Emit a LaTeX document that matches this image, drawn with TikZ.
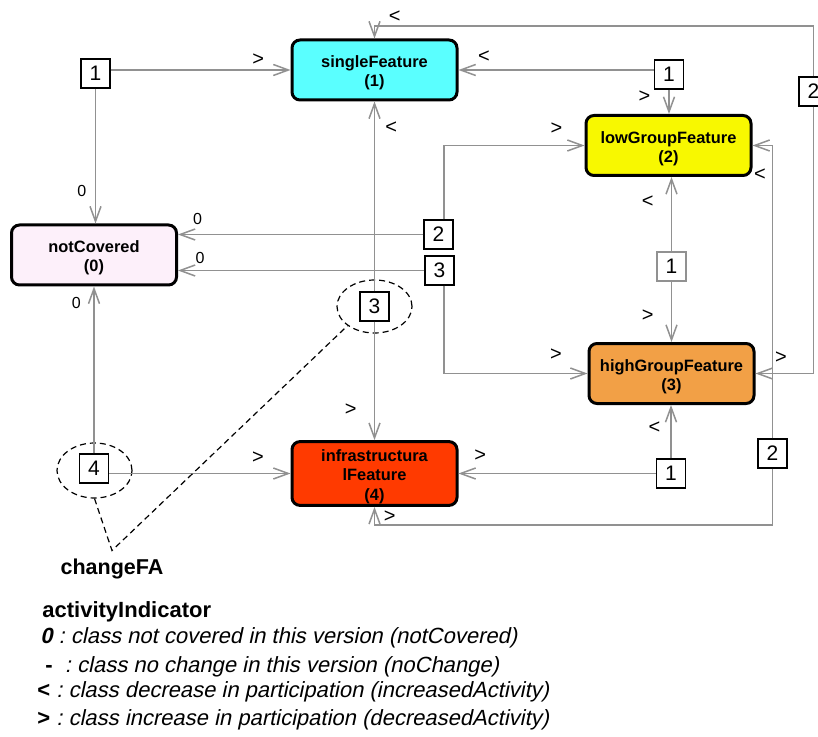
\documentclass[tikz,border=0pt]{standalone}
\usepackage{fontspec}
\setmainfont{Liberation Sans}
\newfontfamily\slantfont{Liberation Sans}[FakeSlant=0.21]
\usepackage{tikz}
\usetikzlibrary{arrows.meta,shapes.geometric}
\definecolor{featcyan}{RGB}{90,255,255}
\definecolor{featyellow}{RGB}{248,248,0}
\definecolor{featpink}{RGB}{253,240,250}
\definecolor{featorange}{RGB}{242,160,70}
\definecolor{featred}{RGB}{255,58,0}
\definecolor{linegray}{RGB}{145,145,145}
\newcommand\featstrut{\rule{0pt}{9pt}}

\begin{document}
\begin{tikzpicture}[
  x=0.5pt, y=-0.5pt,
  feat/.style={draw, line width=1.5pt, rounded corners=4pt, align=center, minimum width=82.5pt, minimum height=30pt, inner sep=1pt, font=\bfseries\fontsize{8.2}{9.6}\selectfont},
  num/.style={draw, line width=0.7pt, fill=white, minimum size=14.5pt, inner sep=0pt, font=\fontsize{10.5}{12}\selectfont},
  oval/.style={draw, ellipse, dash pattern=on 3pt off 2pt, line width=0.6pt, inner sep=0pt},
  arr/.style={draw=linegray, line width=0.75pt, -{Straight Barb[length=7.5pt,width=5.5pt]}},
  lbl/.style={inner sep=1pt, font=\fontsize{10}{12}\selectfont},
  zlbl/.style={inner sep=1pt, font=\fontsize{8}{10}\selectfont},
  note/.style={anchor=west, inner sep=0pt, font=\fontsize{11}{13}\selectfont\frenchspacing}
]
\path[use as bounding box, fill=white] (0,0) rectangle (818,737);

\node[feat, fill=featpink] (nc) at (94,255) {\featstrut notCovered\\(0)};
\node[feat, fill=featcyan] (sf) at (374.5,70) {\featstrut singleFeature\\(1)};
\node[feat, fill=featyellow] (lg) at (668.5,145.5) {\featstrut lowGroupFeature\\(2)};
\node[feat, fill=featorange] (hg) at (671.5,373.5) {\featstrut highGroupFeature\\(3)};
\node[feat, fill=featred] (inf) at (374.5,473.5) {\featstrut infrastructura\\lFeature\\(4)};

\node[oval, minimum width=37.5pt, minimum height=26.5pt] (e3) at (374.5,306.5) {};
\node[oval, minimum width=37.5pt, minimum height=27.5pt] (e4) at (94.5,470.5) {};

\node[num] (n1a) at (95.5,73.5) {1};
\node[num] (n1b) at (669,74.5) {1};
\node[num] (n2a) at (813.5,91.5) {2};
\node[num] (n2b) at (438.5,234.5) {2};
\node[num] (n3a) at (439.5,270.5) {3};
\node[num, draw=linegray] (n1c) at (671.5,266.5) {1};
\node[num] (n3b) at (374.5,306.5) {3};
\node[num] (n4) at (94,468.5) {4};
\node[num] (n1d) at (671,473.5) {1};
\node[num] (n2c) at (772.5,453.5) {2};

\coordinate (topy) at (0,26);
\coordinate (boty) at (0,525);

\draw[arr] (n1a.east |- sf.west) -- node[lbl, pos=0.82, above=1pt] {>} (sf.west);
\draw[arr] (n1a.south) -- node[zlbl, pos=0.76, left=3.3pt] {0} (n1a.south |- nc.north);
\draw[arr] (n1b.west |- sf.east) -- node[lbl, pos=0.87, above=2.5pt] {<} (sf.east);
\draw[arr] (n1b.south) -- node[lbl, pos=0.28, left=8pt] {>} (n1b.south |- lg.north);
\draw[arr] (n2a.north) -- (n2a.north |- topy) -| node[lbl, pos=0.477, above=0.5pt] {<} (sf.north);
\draw[arr] (n2a.south) |- node[lbl, pos=0.78, above=3.75pt] {>} (hg.east);
\draw[arr] (n2b.west) -- node[zlbl, pos=0.92, above=3.6pt] {0} (n2b.west -| nc.east);
\draw[arr] ([xshift=2.75pt]n2b.north) |- node[lbl, pos=0.9, above=4pt] {>} (lg.west);
\draw[arr] (n3a.west) -- node[zlbl, pos=0.91, above=1.9pt] {0} (n3a.west -| nc.east);
\draw[arr] ([xshift=2.25pt]n3a.south) |- node[lbl, pos=0.89, above=5pt] {>} (hg.west);
\draw[arr] (n1c.north) -- node[lbl, pos=0.67, left=7.6pt] {<} (n1c.north |- lg.south);
\draw[arr] (n1c.south) -- node[lbl, pos=0.57, left=7.6pt] {>} (hg.north);
\draw[arr] (n3b.north) -- node[lbl, pos=0.86, right=4pt] {<} (sf.south);
\draw[arr] (n3b.south) -- node[lbl, pos=0.74, left=7.6pt] {>} (inf.north);
\draw[arr] (n4.north) -- node[zlbl, pos=0.9, left=5.3pt] {0} (n4.north |- nc.south);
\draw[arr] (n4.east |- inf.west) -- node[lbl, pos=0.82, above=3.75pt] {>} (inf.west);
\draw[arr] (n1d.west) -- node[lbl, pos=0.89, above=4.75pt] {>} (n1d.west -| inf.east);
\draw[arr] (n1d.north) -- node[lbl, pos=0.57, left=4pt] {<} (n1d.north |- hg.south);
\draw[arr] (n2c.north) |- node[lbl, pos=0.45, left=2pt] {<} (lg.east);
\draw[arr] (n2c.south) -- (n2c.south |- boty) -| node[lbl, pos=0.481, above=0pt] {>} (inf.south);

\node[font=\bfseries\fontsize{10.75}{13}\selectfont, inner sep=4pt] (cfa) at (112,569) {changeFA};
\draw[dash pattern=on 3pt off 2pt, line width=0.6pt] (e4.south) -- (cfa.north) -- (e3.south west);

\node[note, font=\bfseries\fontsize{11}{13}\selectfont] (ttl) at (42,612) {activityIndicator};
\node[note] (k0) at (40,638) {\slantfont{\bfseries 0} : class not covered in this version (notCovered)};
\node[note] (k1) at (45,667) {{\bfseries -} \slantfont\ : class no change in this version (noChange)};
\node[note] (k2) at (37,692) {{\bfseries <}\slantfont\ : class decrease in participation (increasedActivity)};
\node[note] (k3) at (37,720) {{\bfseries >}\slantfont\ : class increase in participation (decreasedActivity)};
\end{tikzpicture}
\end{document}
